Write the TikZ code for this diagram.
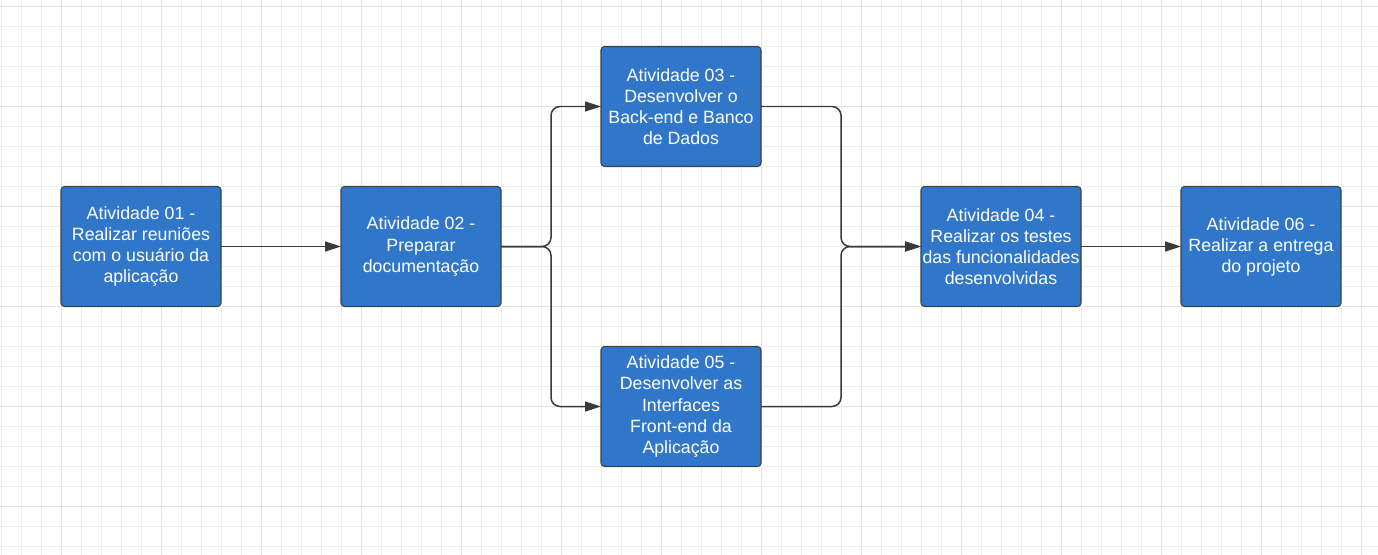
\documentclass[tikz,border=0pt]{standalone}
\usepackage{fontspec}
\setmainfont{Liberation Sans}
\usepackage{tikz}
\usetikzlibrary{positioning,arrows.meta}
\definecolor{boxblue}{RGB}{48,119,201}
\definecolor{boxline}{RGB}{60,66,74}
\definecolor{wire}{RGB}{58,58,58}
\definecolor{gridminor}{RGB}{237,237,237}
\definecolor{gridmajor}{RGB}{226,226,226}

\begin{document}
\begin{tikzpicture}[node distance={20mm},
    main/.style={draw=boxline, line width=0.6pt, fill=boxblue, rounded corners=0.07cm,
        minimum width=3.2cm, minimum height=2.4cm, inner sep=0pt, outer sep=0pt, align=center,
        text=white, font=\fontsize{10.1}{12}\selectfont},
    wireline/.style={draw=wire, line width=0.85pt, rounded corners=0.18cm},
    tip/.style={-{Triangle[length=0.32cm, width=0.2cm]}}]
    \useasboundingbox (0,0) rectangle (27.56,-11.08);
    \fill[white] (0,0) rectangle (27.56,-11.08);
    \begin{scope}
    \clip (0,0) rectangle (27.56,-11.08);
    \draw[gridminor, line width=0.5pt, shift={(0.03,-0.12)}, step=0.4] (-0.4,0.4) grid (27.6,-11.2);
    \draw[gridmajor, line width=0.5pt, shift={(1.23,-0.12)}, step=2] (-2,2) grid (26.4,-12);
    \end{scope}

    \node[main] (1) at (2.82,-4.93) {Atividade 01 -\\Realizar reuniões\\com o usuário da\\aplicação};
    \node[main] (2) [right=24mm of 1] {Atividade 02 -\\Preparar\\documentação};

    \node[main] (3) [above right=4mm and 20mm of 2] {Atividade 03 -\\Desenvolver o\\Back-end e Banco\\de Dados};
    \node[main] (5) [below right=8mm and 20mm of 2] {Atividade 05 -\\Desenvolver as\\Interfaces\\Front-end da\\Aplicação};

    \node[main] (4) [right=84mm of 2] {Atividade 04 -\\Realizar os testes\\das funcionalidades\\desenvolvidas};
    \node[main] (6) [right=20mm of 4] {Atividade 06 -\\Realizar a entrega\\do projeto};

    \coordinate[right=10mm of 2] (j1);
    \coordinate[left=16mm of 4] (j2);

    \draw[wireline, tip] (1) -- (2);
    \draw[wireline, tip] (2.east) -- (j1) |- (3.west);
    \draw[wireline, tip] (2.east) -- (j1) |- (5.west);
    \draw[wireline, tip] (3.east) -| (j2) -- (4.west);
    \draw[wireline, tip] (5.east) -| (j2) -- (4.west);
    \draw[wireline, tip] (4) -- (6);
\end{tikzpicture}
\end{document}
